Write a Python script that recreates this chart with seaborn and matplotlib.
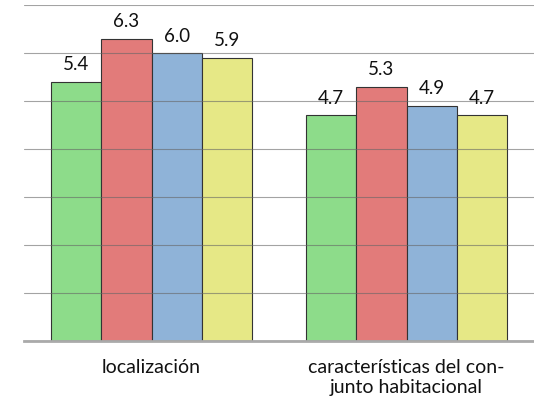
import matplotlib
matplotlib.use("Agg")
import matplotlib.pyplot as plt
import seaborn as sns
import pandas as pd

categories = ["localización", "características del con-\njunto habitacional"]
series = ["Serie 1", "Serie 2", "Serie 3", "Serie 4"]
values = {
    "Serie 1": [5.4, 4.7],
    "Serie 2": [6.3, 5.3],
    "Serie 3": [6.0, 4.9],
    "Serie 4": [5.9, 4.7],
}
colors = ["#8ddc8a", "#e27b7a", "#8fb3d8", "#e6e886"]

rows = []
for s in series:
    for c, v in zip(categories, values[s]):
        rows.append({"categoria": c, "serie": s, "valor": v})
df = pd.DataFrame(rows)

sns.set_style("white")
plt.rcParams["font.family"] = ["Lato", "DejaVu Sans"]

fig = plt.figure(figsize=(5.34, 4.01), dpi=100)
ax = fig.add_axes([0.045, 0.15, 0.955, 0.8375])

sns.barplot(data=df, x="categoria", y="valor", hue="serie", order=categories,
            hue_order=series, palette=colors, width=0.79, gap=0,
            edgecolor="#333333", linewidth=0.8, saturation=1, ax=ax, legend=False)

for cont in ax.containers:
    ax.bar_label(cont, fmt="%.1f", padding=6, fontsize=13.5, color="#111111")

ax.set_ylim(0, 7)
ax.set_xlim(-0.5, 1.5)
ax.set_yticks(range(0, 8))
ax.yaxis.grid(True, color="#666666", linewidth=0.8)
ax.set_axisbelow(False)
for gl in ax.get_ygridlines():
    gl.set_alpha(0.6)
ax.set_yticklabels([])
ax.tick_params(axis="y", length=0)
ax.tick_params(axis="x", length=0, pad=13, labelsize=14, labelcolor="#111111")
for lbl in ax.get_xticklabels():
    lbl.set_linespacing(1.2)
ax.set_xlabel("")
ax.set_ylabel("")
for side in ["top", "right", "left"]:
    ax.spines[side].set_visible(False)
ax.spines["bottom"].set_color("#aaaaaa")
ax.spines["bottom"].set_linewidth(2)

fig.savefig("out.png", dpi=100)
